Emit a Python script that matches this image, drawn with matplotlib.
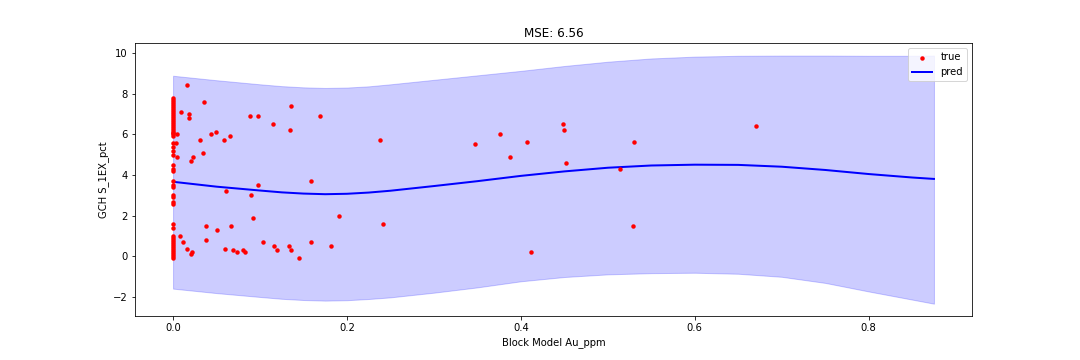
import matplotlib
matplotlib.use("Agg")
import matplotlib.pyplot as plt
import numpy as np

# Observed samples (x = Block Model Au_ppm, y = GCH S_1EX_pct)
x_zero_upper = [7.78, 7.7, 7.6, 7.5, 7.4, 7.3, 7.2, 7.1, 7.0, 6.9, 6.8, 6.7, 6.6,
                6.5, 6.4, 6.3, 6.2, 6.1, 6.05, 6.0, 5.9, 5.6, 5.4, 5.2, 5.0, 4.5,
                4.3, 4.2, 3.7, 3.5, 3.4, 3.0, 2.9, 2.7, 2.6]
x_zero_lower = [1.6, 1.4, 1.0, 0.9, 0.8, 0.7, 0.6, 0.5, 0.4, 0.3, 0.2, 0.1, 0.0, -0.1]

true_x = [0.016, 0.036, 0.009, 0.018, 0.018, 0.089, 0.098, 0.136, 0.135, 0.169,
          0.115, 0.005, 0.044, 0.049, 0.031, 0.059, 0.065, 0.003, 0.005, 0.034,
          0.023, 0.021, 0.238, 0.061, 0.098, 0.090, 0.159, 0.092, 0.191, 0.242,
          0.008, 0.012, 0.016, 0.022, 0.021, 0.038, 0.038, 0.050, 0.067, 0.060,
          0.069, 0.073, 0.080, 0.083, 0.104, 0.116, 0.119, 0.133, 0.136, 0.145,
          0.159, 0.182,
          0.347, 0.376, 0.388, 0.407, 0.448, 0.449, 0.452, 0.530, 0.514, 0.529,
          0.412, 0.670]
true_y = [8.42, 7.58, 7.10, 7.00, 6.80, 6.90, 6.90, 7.39, 6.20, 6.90,
          6.50, 6.00, 6.00, 6.10, 5.71, 5.71, 5.91, 5.60, 4.90, 5.07,
          4.88, 4.68, 5.71, 3.20, 3.50, 3.00, 3.70, 1.87, 1.97, 1.58,
          0.99, 0.69, 0.39, 0.20, 0.10, 1.48, 0.79, 1.28, 1.48, 0.39,
          0.30, 0.20, 0.30, 0.20, 0.69, 0.49, 0.30, 0.49, 0.30, -0.10,
          0.69, 0.49,
          5.52, 6.00, 4.88, 5.62, 6.50, 6.20, 4.58, 5.62, 4.29, 1.48,
          0.20, 6.40]

# Model prediction with confidence band
grid_x = [0.0, 0.05, 0.10, 0.125, 0.15, 0.175, 0.20, 0.225, 0.25, 0.30, 0.35,
          0.40, 0.45, 0.50, 0.55, 0.60, 0.65, 0.70, 0.75, 0.80, 0.85, 0.875]
pred_mean = [3.67, 3.43, 3.24, 3.15, 3.09, 3.06, 3.08, 3.14, 3.23, 3.46, 3.70,
             3.96, 4.18, 4.36, 4.47, 4.51, 4.50, 4.41, 4.25, 4.05, 3.88, 3.81]
pred_upper = [8.88, 8.66, 8.46, 8.37, 8.31, 8.28, 8.30, 8.36, 8.46, 8.68, 8.90,
              9.12, 9.36, 9.57, 9.73, 9.82, 9.86, 9.87, 9.87, 9.86, 9.86, 9.87]
pred_lower = [-1.58, -1.80, -1.99, -2.08, -2.14, -2.17, -2.15, -2.09, -2.01, -1.78,
              -1.52, -1.22, -1.01, -0.88, -0.82, -0.80, -0.85, -1.00, -1.30, -1.72,
              -2.12, -2.32]

all_x = [0.0] * (len(x_zero_upper) + len(x_zero_lower)) + true_x
all_y = x_zero_upper + x_zero_lower + true_y

fig, ax = plt.subplots(figsize=(15, 5), dpi=72)
fig.subplots_adjust(bottom=0.122)

ax.scatter(all_x, all_y, s=20, color="red", linewidths=0, label="true", zorder=3)
ax.plot(grid_x, pred_mean, color="blue", linewidth=2, label="pred")
ax.fill_between(grid_x, pred_lower, pred_upper, color="blue", alpha=0.2)

ax.set_title("MSE: 6.56")
ax.set_xlabel("Block Model Au_ppm")
ax.set_ylabel("GCH S_1EX_pct")
ax.legend(loc="upper right")

fig.savefig("out.png", dpi=72)
